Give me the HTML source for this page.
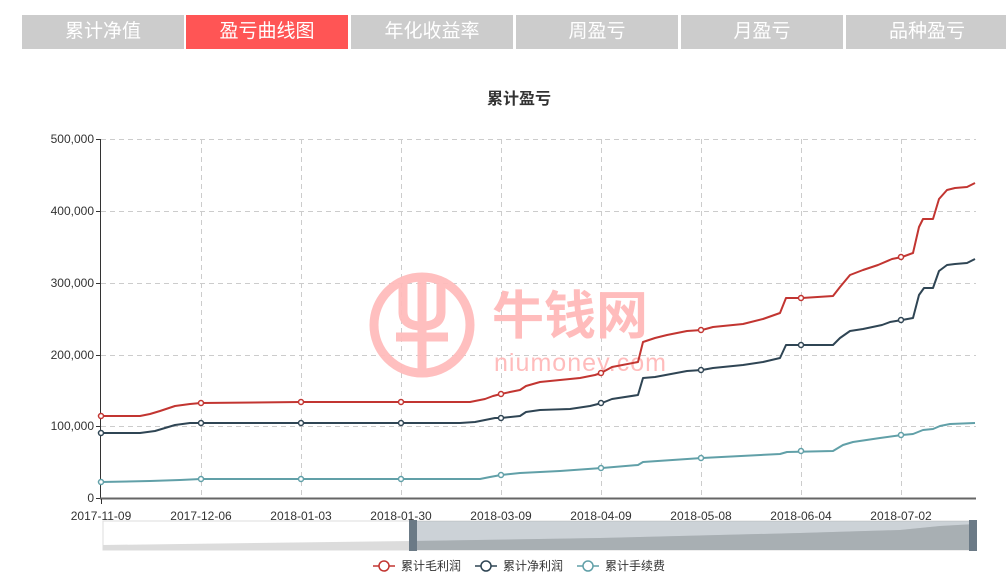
<!DOCTYPE html>
<html><head><meta charset="utf-8"><style>
body{margin:0;background:#fff;width:1006px;height:588px;overflow:hidden;font-family:"Liberation Sans","Noto Sans CJK SC",sans-serif;}
.tab{position:absolute;top:15px;height:34px;width:162px;background:#cccccc;color:#fff;font-size:19px;line-height:34px;text-align:center;}
.tab.on{background:#ff5555;}
</style></head><body>
<div class="tab" style="left:22px">累计净值</div>
<div class="tab on" style="left:186px">盈亏曲线图</div>
<div class="tab" style="left:351px">年化收益率</div>
<div class="tab" style="left:516px">周盈亏</div>
<div class="tab" style="left:681px">月盈亏</div>
<div class="tab" style="left:846px">品种盈亏</div>
<svg width="1006" height="588" style="position:absolute;left:0;top:0" font-family="Liberation Sans, Noto Sans CJK SC, sans-serif">
<text x="519" y="104" text-anchor="middle" font-size="16" font-weight="bold" fill="#333">累计盈亏</text>
<g stroke="#ccc" stroke-dasharray="5,4" stroke-width="1">
<line x1="101" x2="976" y1="139.5" y2="139.5"/><line x1="101" x2="976" y1="211.5" y2="211.5"/><line x1="101" x2="976" y1="283.5" y2="283.5"/><line x1="101" x2="976" y1="355.5" y2="355.5"/><line x1="101" x2="976" y1="426.5" y2="426.5"/>
<line x1="201.5" x2="201.5" y1="139" y2="498"/><line x1="301.5" x2="301.5" y1="139" y2="498"/><line x1="401.5" x2="401.5" y1="139" y2="498"/><line x1="501.5" x2="501.5" y1="139" y2="498"/><line x1="601.5" x2="601.5" y1="139" y2="498"/><line x1="701.5" x2="701.5" y1="139" y2="498"/><line x1="801.5" x2="801.5" y1="139" y2="498"/><line x1="901.5" x2="901.5" y1="139" y2="498"/>
</g>
<g fill="none" stroke="#ffbcbc" stroke-width="9" opacity="0.95">
<circle cx="422" cy="325" r="48"/>
<path d="M403 280 v32 q0 14 19 14 q19 0 19 -14 v-32"/>
<line x1="422" y1="280" x2="422" y2="370"/>
<line x1="396" y1="337" x2="448" y2="337"/>
</g>
<text x="492" y="334" font-size="52" fill="#ffbcbc" font-weight="bold" font-family="Noto Sans CJK SC, sans-serif">牛钱网</text>
<text x="494" y="371" font-size="25" fill="#ffbcbc" textLength="172">niumoney.com</text>
<g stroke="#333" stroke-width="1"><line x1="100.5" y1="139" x2="100.5" y2="498"/>
<line x1="96" x2="100" y1="139.5" y2="139.5"/><line x1="96" x2="100" y1="211.5" y2="211.5"/><line x1="96" x2="100" y1="283.5" y2="283.5"/><line x1="96" x2="100" y1="355.5" y2="355.5"/><line x1="96" x2="100" y1="426.5" y2="426.5"/><line x1="96" x2="100" y1="498.5" y2="498.5"/></g>
<line x1="100" x2="976" y1="498.5" y2="498.5" stroke="#666" stroke-width="2"/>
<g stroke="#333"><line x1="101.5" x2="101.5" y1="499" y2="504"/></g>
<g font-size="12" fill="#333" text-anchor="end">
<text x="94" y="143">500,000</text><text x="94" y="215">400,000</text><text x="94" y="287">300,000</text><text x="94" y="359">200,000</text><text x="94" y="430">100,000</text><text x="94" y="502">0</text></g>
<g font-size="12" fill="#333" text-anchor="middle">
<text x="101" y="520">2017-11-09</text><text x="201" y="520">2017-12-06</text><text x="301" y="520">2018-01-03</text><text x="401" y="520">2018-01-30</text><text x="501" y="520">2018-03-09</text><text x="601" y="520">2018-04-09</text><text x="701" y="520">2018-05-08</text><text x="801" y="520">2018-06-04</text><text x="901" y="520">2018-07-02</text></g>
<g fill="none" stroke-width="2" stroke-linejoin="round">
<polyline stroke="#c23531" points="101,416 140,416 150,414 160,411 175,406 190,404 201,403 301,402 401,402 470,402 480,400 485,399 493,396 501,394 510,392 520,390 526,386 540,382 560,380 580,378 595,375 601,373 612,367 638,362 643,342 655,338 667,335 687,331 702,330 713,327 743,324 763,319 780,313 786,298 802,298 833,296 840,287 850,275 863,270 878,265 892,259 902,257 913,253 919,227 923,219 933,219 939,199 947,190 955,188 967,187 975,183"/>
<polyline stroke="#2f4554" points="101,433 140,433 155,431 175,425 190,423 201,423 460,423 475,422 485,420 495,418 501,418 520,416 526,412 540,410 570,409 590,406 602,403 612,399 638,395 643,378 655,377 687,371 702,370 713,368 743,365 763,362 780,358 786,345 833,345 840,338 850,331 863,329 882,325 890,322 902,320 913,318 919,295 924,288 933,288 939,271 947,265 955,264 967,263 975,259"/>
<polyline stroke="#61a0a8" points="101,482 150,481 180,480 201,479 480,479 490,477 501,475 520,473 560,471 602,468 638,465 643,462 702,458 780,454 787,452 833,451 843,445 853,442 880,438 902,435 913,434 923,430 933,429 940,426 950,424 975,423"/>
</g>
<g fill="#fff" stroke-width="1.5">
<g stroke="#c23531"><circle cx="101" cy="416" r="2.5"/><circle cx="201" cy="403" r="2.5"/><circle cx="301" cy="402" r="2.5"/><circle cx="401" cy="402" r="2.5"/><circle cx="501" cy="394" r="2.5"/><circle cx="601" cy="373" r="2.5"/><circle cx="701" cy="330" r="2.5"/><circle cx="801" cy="298" r="2.5"/><circle cx="901" cy="257" r="2.5"/></g>
<g stroke="#2f4554"><circle cx="101" cy="433" r="2.5"/><circle cx="201" cy="423" r="2.5"/><circle cx="301" cy="423" r="2.5"/><circle cx="401" cy="423" r="2.5"/><circle cx="501" cy="418" r="2.5"/><circle cx="601" cy="403" r="2.5"/><circle cx="701" cy="370" r="2.5"/><circle cx="801" cy="345" r="2.5"/><circle cx="901" cy="320" r="2.5"/></g>
<g stroke="#61a0a8"><circle cx="101" cy="482" r="2.5"/><circle cx="201" cy="479" r="2.5"/><circle cx="301" cy="479" r="2.5"/><circle cx="401" cy="479" r="2.5"/><circle cx="501" cy="475" r="2.5"/><circle cx="601" cy="468" r="2.5"/><circle cx="701" cy="458" r="2.5"/><circle cx="801" cy="451" r="2.5"/><circle cx="901" cy="435" r="2.5"/></g>
</g>
<rect x="103" y="521" width="873" height="29" fill="#fff" stroke="#ddd"/>
<polygon points="103,545 413,541 600,538 800,533 900,530 940,526 976,524 976,550 103,550" fill="#dcdcdc"/>
<rect x="413" y="521" width="560" height="29" fill="#9aa6b0" opacity="0.5"/>
<polygon points="413,541 600,538 800,533 900,530 940,526 976,524 976,550 413,550" fill="#a0a6ab" opacity="0.7"/>
<rect x="409" y="520" width="8" height="31" fill="#6b7a86"/>
<rect x="969" y="520" width="8" height="31" fill="#6b7a86"/>
<g font-size="12" fill="#333" stroke-width="1.5">
<line x1="373" x2="395" y1="566" y2="566" stroke="#c23531"/><circle cx="384" cy="566" r="5" fill="#fff" stroke="#c23531"/><text x="401" y="570" stroke="none">累计毛利润</text>
<line x1="475" x2="497" y1="566" y2="566" stroke="#2f4554"/><circle cx="486" cy="566" r="5" fill="#fff" stroke="#2f4554"/><text x="503" y="570" stroke="none">累计净利润</text>
<line x1="577" x2="599" y1="566" y2="566" stroke="#61a0a8"/><circle cx="588" cy="566" r="5" fill="#fff" stroke="#61a0a8"/><text x="605" y="570" stroke="none">累计手续费</text>
</g>
</svg>
</body></html>
